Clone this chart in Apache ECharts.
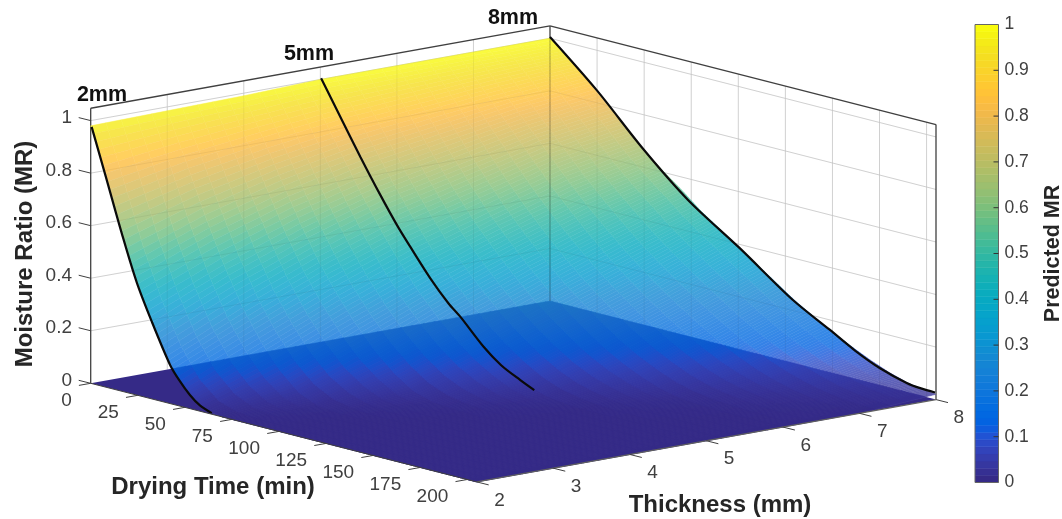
<!DOCTYPE html>
<html><head><meta charset="utf-8">
<style>html,body{margin:0;padding:0;background:#fff}#c{width:1062px;height:519px}</style>
<script src="https://cdn.jsdelivr.net/npm/echarts@6/dist/echarts.min.js"></script>
</head><body><div id="c"></div>
<script>
// ---- data ----
const times = [0,10,20,30,40,50,60,70,80,90,100,110,120,130,140,150,160,170,180,190,200,205];
const thicknesses = [2,3,4,5,6,7,8];
const mr2mm = [.98,.755,.52,.33,.175,.07,.014,0,0,0,0,0,0,0,0,0,0,0,0,0,0,0];
const mr3mm = [.985,.81,.625,.455,.31,.195,.105,.04,.01,.002,0,0,0,0,0,0,0,0,0,0,0,0];
const mr4mm = [.99,.85,.705,.56,.43,.32,.225,.145,.08,.032,.01,.003,0,0,0,0,0,0,0,0,0,0];
const mr5mm = [1,.885,.765,.645,.535,.43,.34,.26,.19,.13,.08,.04,.015,.005,0,0,0,0,0,0,0,0];
const mr6mm = [1,.905,.805,.705,.61,.52,.44,.365,.295,.235,.18,.13,.088,.055,.028,.012,.005,.002,0,0,0,0];
const mr7mm = [1,.925,.845,.765,.685,.605,.53,.46,.395,.335,.28,.23,.183,.14,.102,.07,.045,.026,.013,.006,.002,.001];
const mr8mm = [1,.94,.875,.805,.735,.665,.605,.55,.49,.44,.39,.34,.29,.24,.197,.157,.12,.087,.058,.036,.024,.02];
const surface = [mr2mm,mr3mm,mr4mm,mr5mm,mr6mm,mr7mm,mr8mm];

const curve2t = [0.5,8.5,16.5,24.4,32.4,42.1,47,52.7,58,64.3];
const curve2mr = [.977,.79,.601,.43,.295,.148,.098,.052,.022,.004];
const curve5t = [0.4,11.5,21.2,31.9,40.7,47.8,58.4,68.1,74.3,86.7,96,106.2,113.6];
const curve5mr = [1.005,.866,.745,.618,.52,.45,.35,.272,.233,.141,.088,.05,.0255];
const curve8t = [0,24.8,49.4,73.3,100.9,129,148.7,162,175.3,189.4,197,204.5];
const curve8mr = [1.005,.848,.67,.519,.385,.24,.162,.108,.065,.035,.028,.026];

const timeTicks = [0,25,50,75,100,125,150,175,200];
const thickTicks = [2,3,4,5,6,7,8];
const mrTicks = [0,.2,.4,.6,.8,1];
const barTicks = [.1,.2,.3,.4,.5,.6,.7,.8,.9];
const curveLabels = ['2mm','5mm','8mm'];

const parula = [[.2081,.1663,.5292],[.2116,.1898,.5777],[.2123,.2138,.6270],[.2081,.2386,.6771],[.1959,.2645,.7279],[.1707,.2919,.7792],[.1253,.3242,.8303],[.0591,.3598,.8683],[.0117,.3875,.8820],[.0060,.4086,.8828],[.0165,.4266,.8786],[.0329,.4430,.8720],[.0498,.4586,.8641],[.0629,.4737,.8554],[.0723,.4887,.8467],[.0779,.5040,.8384],[.0793,.5200,.8312],[.0749,.5375,.8263],[.0641,.5570,.8240],[.0488,.5772,.8228],[.0343,.5966,.8199],[.0265,.6137,.8135],[.0239,.6287,.8038],[.0231,.6418,.7913],[.0228,.6535,.7768],[.0267,.6642,.7607],[.0384,.6743,.7436],[.0590,.6838,.7254],[.0843,.6928,.7062],[.1133,.7015,.6859],[.1453,.7098,.6646],[.1801,.7177,.6424],[.2178,.7250,.6193],[.2586,.7317,.5954],[.3022,.7376,.5712],[.3482,.7424,.5473],[.3953,.7459,.5244],[.4420,.7481,.5033],[.4871,.7491,.4840],[.5300,.7491,.4661],[.5709,.7485,.4494],[.6099,.7473,.4337],[.6473,.7456,.4188],[.6834,.7435,.4044],[.7184,.7411,.3905],[.7525,.7384,.3768],[.7858,.7356,.3633],[.8185,.7327,.3498],[.8507,.7299,.3360],[.8824,.7274,.3217],[.9139,.7258,.3063],[.9450,.7261,.2886],[.9739,.7314,.2666],[.9938,.7455,.2403],[.9990,.7653,.2164],[.9955,.7861,.1967],[.9880,.8066,.1794],[.9789,.8271,.1633],[.9697,.8481,.1475],[.9626,.8705,.1309],[.9589,.8949,.1132],[.9598,.9218,.0948],[.9661,.9514,.0755],[.9763,.9831,.0538]];

// ---- view: the 3D box seen in orthographic projection ----
const T_MAX = 205, Z_TOP = 1.047, ALPHA = 0.8;
const O = [90.7,383.3], TV = [386,98.6], HV = [459.3,-82.3], ZV = [0,-262.7];
function project(t, th, z){
  const a = t/T_MAX, b = (th-2)/6;
  return [O[0]+a*TV[0]+b*HV[0]+z*ZV[0], O[1]+a*TV[1]+b*HV[1]+z*ZV[1]];
}
function rawColor(v){
  const p = Math.max(0,Math.min(1,v))*(parula.length-1), i = Math.min(parula.length-2,Math.floor(p)), f = p-i;
  return [0,1,2].map(k=>parula[i][k]*(1-f)+parula[i+1][k]*f);
}
const css = c => 'rgb('+c.map(v=>Math.round(v*255)).join(',')+')';
const onWhite = v => css(rawColor(v).map(c=>c*ALPHA+(1-ALPHA)));
const onFloor = v => css(rawColor(v).map((c,k)=>c*ALPHA+parula[0][k]*(1-ALPHA)));
const FLOOR = css(parula[0]);
const floorPoly = [project(0,2,0),project(T_MAX,2,0),project(T_MAX,8,0),project(0,8,0)];

// keep the part of a convex polygon that lies inside the floor outline
function clipToFloor(points){
  let out = points;
  for(let e=0;e<floorPoly.length && out.length;e++){
    const A=floorPoly[e],B=floorPoly[(e+1)%floorPoly.length];
    const side=p=>(B[0]-A[0])*(p[1]-A[1])-(B[1]-A[1])*(p[0]-A[0]);
    const res=[];
    for(let i=0;i<out.length;i++){
      const p=out[i],q=out[(i+1)%out.length],sp=side(p),sq=side(q);
      if(sp<=0) res.push(p);
      if((sp<0&&sq>0)||(sp>0&&sq<0)){const k=sp/(sp-sq);res.push([p[0]+(q[0]-p[0])*k,p[1]+(q[1]-p[1])*k]);}
    }
    out=res;
  }
  return out;
}

const chart = echarts.init(document.getElementById('c'),null,{renderer:'canvas'});
const pt = (api,p)=>api.coord(p);
function seg(api,a,b,stroke,w){
  const A=pt(api,a),B=pt(api,b);
  return {type:'line',shape:{x1:A[0],y1:A[1],x2:B[0],y2:B[1]},style:{stroke,lineWidth:w,fill:null}};
}
function label(api,p,text,font,align,fill,rot){
  const P=pt(api,p);
  return {type:'text',x:P[0],y:P[1],rotation:rot||0,style:{text:String(text),font,fill:fill||'#404040',align:align||'center',verticalAlign:'middle'}};
}
function poly(api,pts,style){return {type:'polygon',shape:{points:pts.map(p=>pt(api,p))},style};}
function layer(name,z,build){
  return {type:'custom',name,coordinateSystem:'cartesian2d',xAxisIndex:0,yAxisIndex:0,z,silent:true,clip:false,
    data:[[0,0]],renderItem:(params,api)=>({type:'group',children:build(api)})};
}
function wallLines(){
  const L=[];
  mrTicks.forEach(z=>{
    if(z===0) return;
    L.push([project(0,2,z),project(0,8,z)]);
    L.push([project(0,8,z),project(T_MAX,8,z)]);
  });
  thickTicks.slice(1,-1).forEach(h=>L.push([project(0,h,0),project(0,h,Z_TOP)]));
  timeTicks.slice(1).forEach(t=>L.push([project(t,8,0),project(t,8,Z_TOP)]));
  return L;
}
function boxLines(){
  return [[project(0,2,0),project(0,2,Z_TOP)],[project(0,8,0),project(0,8,Z_TOP)],[project(T_MAX,8,0),project(T_MAX,8,Z_TOP)],
    [project(0,2,Z_TOP),project(0,8,Z_TOP)],[project(0,8,Z_TOP),project(T_MAX,8,Z_TOP)]];
}
const FF='"Liberation Sans",Arial,sans-serif';
const BOLD='bold 24px '+FF, CURVE='bold 21.5px '+FF, TICK='19px '+FF;

// surface cells
const cells=[];
for(let r=0;r<thicknesses.length-1;r++) for(let c=0;c<times.length-1;c++) cells.push([r,c]);
const SUB_T=8, SUB_H=5;
function cellRender(over){ return function(params,api){
  const r=api.value(0), c=api.value(1), kids=[];
  const t0=times[c],t1=times[c+1],h0=thicknesses[r],h1=thicknesses[r+1];
  const z00=surface[r][c],z01=surface[r][c+1],z10=surface[r+1][c],z11=surface[r+1][c+1];
  const Z=(u,v)=>(z00*(1-u)+z01*u)*(1-v)+(z10*(1-u)+z11*u)*v;
  const P=(u,v)=>project(t0+(t1-t0)*u,h0+(h1-h0)*v,Z(u,v));
  for(let i=0;i<SUB_T;i++) for(let j=0;j<SUB_H;j++){
    const u0=i/SUB_T,u1=(i+1)/SUB_T,v0=j/SUB_H,v1=(j+1)/SUB_H;
    const m=Z((u0+u1)/2,(v0+v1)/2);
    let q=[P(u0,v0),P(u1,v0),P(u1,v1),P(u0,v1)];
    const col=over?onFloor(m):onWhite(m);
    if(over){ q=clipToFloor(q); if(q.length<3) continue; }
    kids.push(poly(api,q,{fill:col,stroke:col,lineWidth:0.5}));
  }
  return {type:'group',children:kids};
};}
const curveSeries=(ts,ms,h)=>({type:'line',z:20,silent:true,smooth:0.3,symbol:'none',xAxisIndex:0,yAxisIndex:0,
  lineStyle:{color:'#0a0a0a',width:2.2},data:ts.map((t,i)=>project(t,h,ms[i]))});
const surfaceSeries=(name,z,over)=>({type:'custom',name,coordinateSystem:'cartesian2d',xAxisIndex:0,yAxisIndex:0,z,silent:true,clip:false,data:cells,renderItem:cellRender(over)});

chart.setOption({
  animation:false,backgroundColor:'#fff',
  grid:[{left:0,top:0,width:1062,height:519,show:false,outerBoundsMode:'none'},
        {left:975,top:24.5,width:23.5,height:458,show:false,outerBoundsMode:'none'}],
  xAxis:[{type:'value',min:0,max:1062,show:false,gridIndex:0},{type:'value',min:0,max:1,show:false,gridIndex:1}],
  yAxis:[{type:'value',min:0,max:519,inverse:true,show:false,gridIndex:0},
    {type:'value',gridIndex:1,min:0,max:1,interval:.1,position:'right',
     name:'Predicted MR',nameLocation:'middle',nameRotate:90,nameGap:44,
     nameTextStyle:{fontFamily:'Liberation Sans',fontWeight:'bold',fontSize:21.5,color:'#262626'},
     axisLine:{show:false},axisTick:{show:false},splitLine:{show:false},
     axisLabel:{fontFamily:'Liberation Sans',fontSize:17.5,color:'#404040',margin:6,formatter:v=>String(+v.toFixed(1))}}],
  series:[
    layer('walls',1,api=>wallLines().map(l=>seg(api,l[0],l[1],'#dcdcdc',1)).concat(boxLines().map(l=>seg(api,l[0],l[1],'#404040',1.3)))),
    layer('floor',2,api=>[poly(api,floorPoly,{fill:FLOOR})]),
    surfaceSeries('surface',3,false),
    surfaceSeries('surfaceOverFloor',4,true),
    layer('seenThrough',5,api=>wallLines().map(l=>seg(api,l[0],l[1],'rgba(0,0,0,0.05)',1)).concat([seg(api,project(0,8,0),project(0,8,1),'rgba(0,0,0,0.28)',1.1)])),
    curveSeries(curve2t,curve2mr,2),curveSeries(curve5t,curve5mr,5),curveSeries(curve8t,curve8mr,8),
    layer('axes',30,api=>{
      const k=[seg(api,project(0,2,0),project(T_MAX,2,0),'#404040',1),seg(api,project(T_MAX,2,0),project(T_MAX,8,0),'#606060',1.2)];
      timeTicks.forEach(t=>{const p=project(t,2,0);k.push(seg(api,p,[p[0]-11.8,p[1]+2.1],'#404040',1));
        k.push(label(api,[p[0]-19,p[1]+17.6],t,TICK,'right'));});
      thickTicks.forEach(h=>{const p=project(T_MAX,h,0);k.push(seg(api,p,[p[0]+12,p[1]+3],'#404040',1));
        k.push(label(api,[p[0]+22.8,p[1]+18.5],h,TICK));});
      mrTicks.forEach(z=>{const p=project(0,2,z);k.push(seg(api,p,[p[0]-12,p[1]-3],'#404040',1));
        k.push(label(api,[72,p[1]-2.5],String(z),TICK,'right'));});
      k.push(label(api,[25,254],'Moisture Ratio (MR)',BOLD,'center','#262626',Math.PI/2));
      k.push(label(api,[213,487],'Drying Time (min)',BOLD,'center','#262626'));
      k.push(label(api,[720,505],'Thickness (mm)',BOLD,'center','#262626'));
      k.push(label(api,[102,95],curveLabels[0],CURVE,'center','#111'));
      k.push(label(api,[309,54],curveLabels[1],CURVE,'center','#111'));
      k.push(label(api,[513,18],curveLabels[2],CURVE,'center','#111'));
      return k;
    }),
    {type:'custom',name:'colorbar',coordinateSystem:'cartesian2d',xAxisIndex:1,yAxisIndex:1,z:10,silent:true,clip:true,
     data:parula.map((c,i)=>[i]),renderItem:(params,api)=>{
       const i=api.value(0),n=parula.length;
       const a=api.coord([0,i/n]),b=api.coord([1,(i+1)/n]),col=css(parula[i]);
       return {type:'rect',shape:{x:a[0],y:b[1],width:b[0]-a[0],height:a[1]-b[1]},style:{fill:col,stroke:col,lineWidth:.5}};
     }},
    {type:'custom',name:'colorbarFrame',coordinateSystem:'cartesian2d',xAxisIndex:1,yAxisIndex:1,z:11,silent:true,clip:false,
     data:[[0,0]],renderItem:(params,api)=>{
       const a=api.coord([0,0]),b=api.coord([1,1]);
       const kids=[{type:'rect',shape:{x:a[0],y:b[1],width:b[0]-a[0],height:a[1]-b[1]},style:{fill:null,stroke:'#666',lineWidth:1}}];
       barTicks.forEach(v=>{const p=api.coord([1,v]);kids.push({type:'line',shape:{x1:p[0]-5,y1:p[1],x2:p[0],y2:p[1]},style:{stroke:'#333',lineWidth:1}});});
       return {type:'group',children:kids};
     }}
  ]
});
</script></body></html>
